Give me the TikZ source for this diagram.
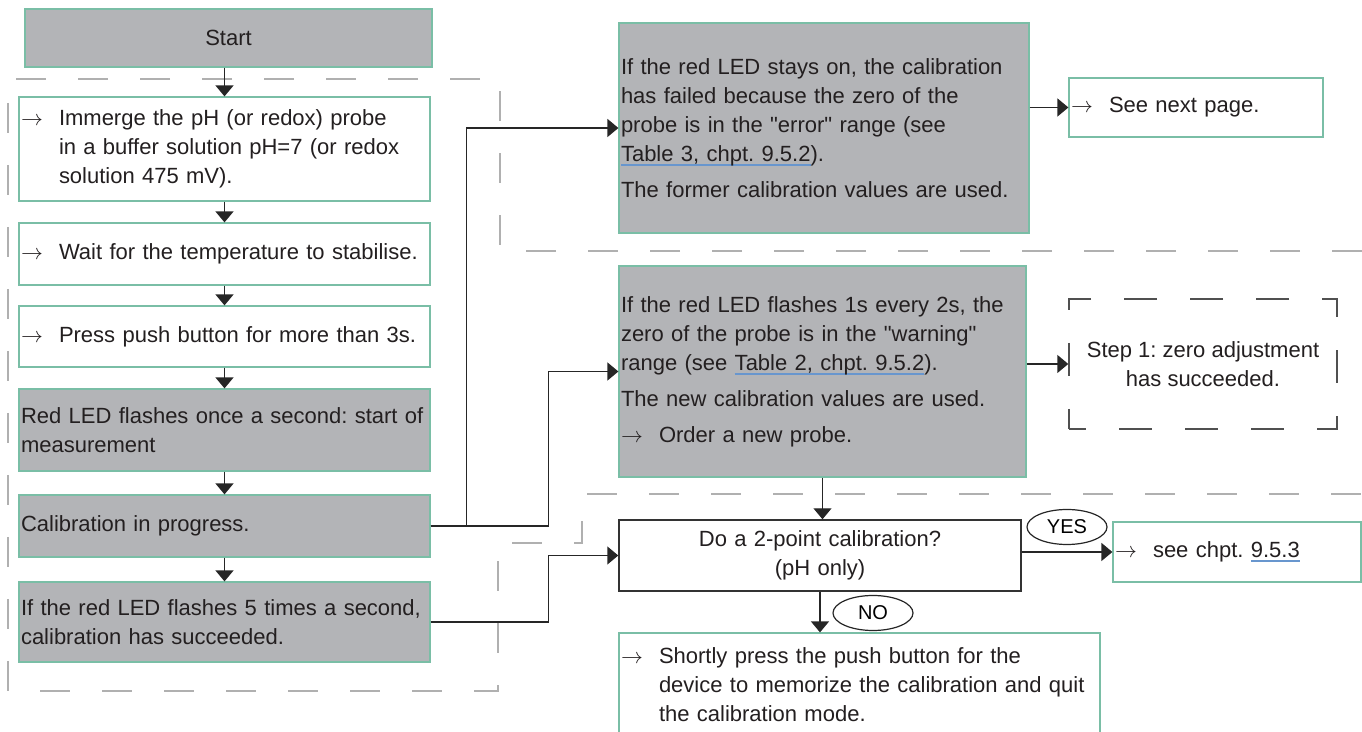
\documentclass[tikz,border=0pt]{standalone}
\usepackage{fontspec}
\setmainfont{Liberation Sans}
\usetikzlibrary{arrows.meta}
\usetikzlibrary{shapes.geometric}
\definecolor{boxgray}{RGB}{179,180,183}
\definecolor{boxgreen}{RGB}{122,190,166}
\definecolor{dashgray}{RGB}{176,176,176}
\definecolor{stepgray}{RGB}{80,80,80}
\definecolor{linkblue}{RGB}{104,150,206}
\definecolor{textdark}{RGB}{35,31,32}
\newcommand\arrowitem{\makebox[19pt][l]{$\rightarrow$}}
\newcommand\indentitem{\hspace*{19pt}}
\newcommand\linkref[1]{\leavevmode\setbox0\hbox{#1}\rlap{\color{linkblue}\rule[-2.3pt]{\wd0}{1pt}}\box0}
\tikzset{
	gbox/.style={draw=boxgreen, line width=0.6pt, fill=boxgray, inner xsep=1pt, inner ysep=0pt, align=left, text width=#1, text=textdark},
	wbox/.style={gbox=#1, fill=white},
	conn/.style={line width=0.7pt, draw=black!85, -{Triangle[length=5.5pt,width=9pt]}},
	answer/.style={ellipse, draw=black!85, line width=0.6pt, fill=white, minimum width=40pt, minimum height=17.5pt, inner sep=0pt, font=\fontsize{10}{12}\selectfont}
}
\begin{document}
\frenchspacing
\begin{tikzpicture}[x=0.5pt, y=-0.5pt, font=\fontsize{11}{14.5}\selectfont\frenchspacing]
	\path[use as bounding box] (0,0) rectangle (1362,732);
	\clip (0,0) rectangle (1362,732);
	\draw[dashgray, line width=0.6pt, dash pattern=on 15pt off 16pt]
	 (1362,251) -- (500,251) -- (500,79) -- (8,79) -- (8,691) -- (498,691) -- (498,543) -- (582,543) -- (582,494) -- (1362,494);
	\node[gbox=201.5pt, align=center, minimum height=29pt] (start) at (228.5,38) {Start};
	\node[wbox=203.5pt, minimum height=52pt] (imm) at (224.5,149)
	 {\arrowitem Immerge the pH (or redox) probe\\\indentitem in a buffer solution pH=7 (or redox\\\indentitem solution 475 mV).};
	\node[wbox=203.5pt, minimum height=31pt] (wait) at (224.5,254) {\arrowitem Wait for the temperature to stabilise.};
	\node[wbox=203.5pt, minimum height=30.5pt] (press) at (224.5,336.5) {\arrowitem Press push button for more than 3s.};
	\node[gbox=203.5pt, minimum height=41pt] (redled) at (224.5,430) {Red LED flashes once a second: start of\\measurement};
	\node[gbox=203.5pt, minimum height=31pt] (calib) at (224.5,526) {Calibration in progress.};
	\node[gbox=203.5pt, minimum height=40pt] (succ) at (224.5,622) {If the red LED flashes 5 times a second,\\calibration has succeeded.};
	\node[gbox=203pt, minimum height=105pt] (error) at (824,128)
	 {If the red LED stays on, the calibration\\has failed because the zero of the\\probe is in the \textquotedbl error\textquotedbl{} range (see\\\linkref{Table 3, chpt. 9.5.2}).\\[3.5pt]The former calibration values are used.};
	\node[wbox=125pt, minimum height=29.5pt] (next) at (1196,107.5) {\arrowitem See next page.};
	\node[gbox=201.5pt, minimum height=105.5pt] (warn) at (822.5,371.5)
	 {If the red LED flashes 1s every 2s, the\\zero of the probe is in the \textquotedbl warning\textquotedbl\\range (see \linkref{Table 2, chpt. 9.5.2}).\\[3.5pt]The new calibration values are used.\\[3.5pt]\arrowitem Order a new probe.};
	\node[draw=stepgray, line width=0.7pt, dash pattern=on 16.5pt off 16.5pt, dash phase=8pt, align=center, minimum width=134pt, minimum height=65pt, text=textdark] (stepone) at (1203,364)
	 {Step 1: zero adjustment\\has succeeded.};
	\node[draw=black!80, line width=0.7pt, fill=white, align=center, text width=199pt, inner xsep=1pt, minimum height=35.5pt, text=textdark] (twopt) at (820,555.5)
	 {Do a 2-point calibration?\\(pH only)};
	\node[wbox=122pt, minimum height=30pt] (chpt) at (1237,552) {\arrowitem see chpt. \linkref{9.5.3}};
	\node[wbox=238.5pt, minimum height=52pt] (memo) at (859.5,685)
	 {\arrowitem Shortly press the push button for the\\\indentitem device to memorize the calibration and quit\\\indentitem the calibration mode.};
	\draw[conn] (imm.north |- start.south) -- (imm.north);
	\draw[conn] (imm.south) -- (wait.north);
	\draw[conn] (wait.south) -- (press.north);
	\draw[conn] (press.south) -- (redled.north);
	\draw[conn] (redled.south) -- (calib.north);
	\draw[conn] (calib.south) -- (succ.north);
	\draw[conn] (calib.east) -- ++(36,0) |- (error.west);
	\draw[conn] (calib.east) -- ++(118,0) |- (warn.west);
	\draw[conn] (succ.east) -- ++(118,0) |- (twopt.west);
	\draw[conn] (error.east |- next.west) -- (next.west);
	\draw[conn] (warn.east |- stepone.west) -- (stepone.west);
	\draw[conn] (warn.south) -- (warn.south |- twopt.north);
	\draw[conn] (twopt.east |- chpt.west) -- (chpt.west);
	\draw[conn] (twopt.south) -- (twopt.south |- memo.north);
	\node[answer] (yes) at (1067,527) {YES};
	\node[answer] (no) at (873,613) {NO};
\end{tikzpicture}
\end{document}
